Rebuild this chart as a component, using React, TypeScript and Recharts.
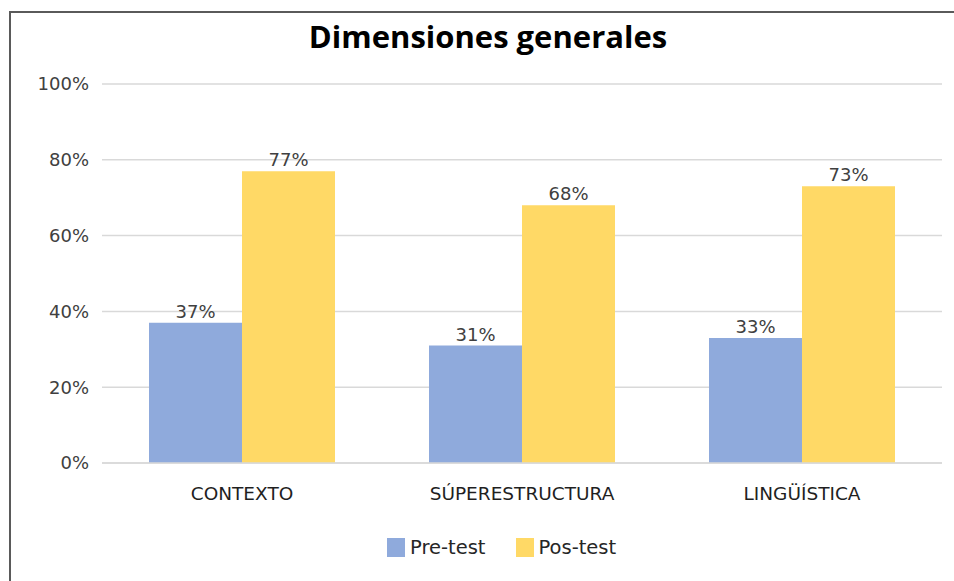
import React from "react";
import { BarChart, Bar, XAxis, YAxis, CartesianGrid, LabelList, Legend } from "recharts";

const categories = ["CONTEXTO", "SÚPERESTRUCTURA", "LINGÜÍSTICA"];
const preTest = [37, 31, 33];
const posTest = [77, 68, 73];
const yTicks = [0, 20, 40, 60, 80, 100];
const seriesNames = ["Pre-test", "Pos-test"];

const BLUE = "#8FAADC";
const YELLOW = "#FFD966";
const seriesColors = [BLUE, YELLOW];
const FONT = "'DejaVu Sans', sans-serif";
const TITLE_FONT = "'Open Sans', 'Noto Sans', sans-serif";

const data = categories.map((c, i) => ({ name: c, pre: preTest[i], pos: posTest[i] }));

function LegendContent() {
  return (
    <div style={{ display: "flex", alignItems: "center", fontFamily: FONT, fontSize: 19.5, color: "#262626" }}>
      {seriesNames.map((n, i) => (
        <div key={n} style={{ display: "flex", alignItems: "center", marginRight: i === 0 ? 30 : 0 }}>
          <span style={{ width: 18, height: 19, background: seriesColors[i], display: "inline-block", marginRight: 5 }} />
          <span>{n}</span>
        </div>
      ))}
    </div>
  );
}

export default function App() {
  return (
    <div style={{ position: "fixed", left: 0, top: 0, width: 954, height: 581, background: "#ffffff", overflow: "hidden" }}>
      <div
        style={{
          position: "absolute",
          left: 9,
          top: 11,
          width: 1000,
          height: 700,
          borderLeft: "2px solid #5a5a5a",
          borderTop: "2px solid #5a5a5a",
        }}
      />
      <div
        style={{
          position: "absolute",
          top: 15,
          left: 238,
          width: 500,
          textAlign: "center",
          fontFamily: TITLE_FONT,
          fontWeight: 700,
          fontSize: 31,
          color: "#000",
        }}
      >
        Dimensiones generales
      </div>
      <div style={{ position: "absolute", left: 0, top: 0 }}>
        <BarChart
          width={954}
          height={581}
          data={data}
          margin={{ top: 84, right: 12, left: 0, bottom: 88 }}
          barGap={0}
          barCategoryGap={47}
        >
          <CartesianGrid horizontal vertical={false} stroke="#D9D9D9" strokeWidth={1.5} />
          <XAxis
            dataKey="name"
            height={30}
            tickLine={false}
            axisLine={{ stroke: "#D9D9D9", strokeWidth: 1.5 }}
            tickSize={0}
            tickMargin={24}
            tick={{ fontFamily: FONT, fontSize: 18.5, fill: "#1f1f1f" }}
          />
          <YAxis
            width={102}
            domain={[0, 100]}
            ticks={yTicks}
            tickFormatter={(v: number) => `${v}%`}
            axisLine={false}
            tickLine={false}
            tickSize={0}
            tickMargin={13}
            tick={{ fontFamily: FONT, fontSize: 18, fill: "#404040" }}
          />
          <Legend
            layout="horizontal"
            verticalAlign="middle"
            align="center"
            wrapperStyle={{ top: 536, left: 387, width: "auto" }}
            content={<LegendContent />}
          />
          <Bar dataKey="pre" name={seriesNames[0]} fill={BLUE} isAnimationActive={false}>
            <LabelList
              dataKey="pre"
              position="top"
              offset={5}
              formatter={(v: any) => `${v}%`}
              style={{ fontFamily: FONT, fontSize: 18, fill: "#404040" }}
            />
          </Bar>
          <Bar dataKey="pos" name={seriesNames[1]} fill={YELLOW} isAnimationActive={false}>
            <LabelList
              dataKey="pos"
              position="top"
              offset={5}
              formatter={(v: any) => `${v}%`}
              style={{ fontFamily: FONT, fontSize: 18, fill: "#404040" }}
            />
          </Bar>
        </BarChart>
      </div>
    </div>
  );
}
